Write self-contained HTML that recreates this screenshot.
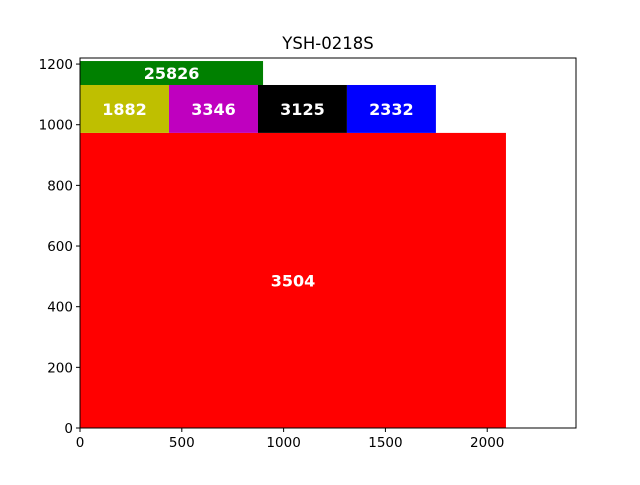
<!DOCTYPE html>
<html><head><meta charset="utf-8"><style>
body{margin:0;background:#fff}
svg{font-family:"DejaVu Sans","Liberation Sans",sans-serif}
</style></head><body>
<svg id="chart" width="640" height="480"></svg>
<script>
const labels=["3504","1882","3346","3125","2332","25826"];
const x0s=[0,0,437,874,1311,0];
const x1s=[2092,437,874,1311,1748,899];
const y0s=[0,973,973,973,973,1131];
const y1s=[973,1131,1131,1131,1131,1210];
const colors=["#ff0000","#bfbf00","#bf00bf","#000000","#0000ff","#008000"];
const xTicks=[0,500,1000,1500,2000];
const yTicks=[0,200,400,600,800,1000,1200];
const L=80,R=576,T=58,B=428,XMAX=2436,YMAX=1220;
const sx=v=>L+v/XMAX*(R-L), sy=v=>B-v/YMAX*(B-T);
const svg=document.getElementById('chart');const NS="http://www.w3.org/2000/svg";
function mk(t,a,p){const e=document.createElementNS(NS,t);for(const k in a)e.setAttribute(k,a[k]);(p||svg).appendChild(e);return e;}
const title=mk('text',{x:328,y:49,'text-anchor':'middle','font-size':16.5});title.textContent="YSH-0218S";


labels.forEach((lb,i)=>{
  const r=mk('rect',{x:sx(x0s[i]),y:sy(y1s[i]),width:sx(x1s[i])-sx(x0s[i]),height:sy(y0s[i])-sy(y1s[i]),fill:colors[i]});
  
  
  const t=mk('text',{x:(sx(x0s[i])+sx(x1s[i]))/2,y:(sy(y0s[i])+sy(y1s[i]))/2+6,'text-anchor':'middle','font-size':16,'font-weight':'bold',fill:'#fff'});
  t.textContent=lb;
  
  
});
const frame=mk('rect',{x:L,y:T,width:R-L,height:B-T,fill:'none',stroke:'#000','stroke-width':1});


xTicks.forEach(v=>{
  mk('line',{x1:sx(v),x2:sx(v),y1:B,y2:B+4,stroke:'#000'});
  const t=mk('text',{x:sx(v),y:B+19,'text-anchor':'middle','font-size':13.5});t.textContent=v;
  
  
});
yTicks.forEach(v=>{
  mk('line',{x1:L-4,x2:L,y1:sy(v),y2:sy(v),stroke:'#000'});
  const t=mk('text',{x:L-7,y:sy(v)+5,'text-anchor':'end','font-size':13.5});t.textContent=v;
  
  
});
</script>
</body></html>
